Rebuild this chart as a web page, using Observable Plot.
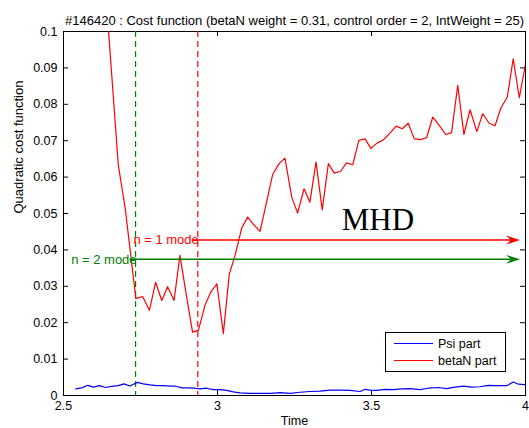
<!DOCTYPE html>
<html><head><meta charset="utf-8">
<script src="https://cdn.jsdelivr.net/npm/d3@7"></script>
<script src="https://cdn.jsdelivr.net/npm/@observablehq/plot@0.6"></script>
<style>
html,body{margin:0;padding:0;background:#fff;}
#wrap{position:relative;width:529px;height:428px;overflow:hidden;}
#legend{position:absolute;left:385px;top:332px;width:119px;height:38px;border:1px solid #000;background:#fff;font-family:"Liberation Sans",Arial,sans-serif;font-size:12.5px;}
.item{position:absolute;left:0;height:16px;width:119px;}
.swatch{position:absolute;left:8px;top:7px;width:39px;height:0;border-top:1.5px solid;}
.lab{position:absolute;left:52px;top:0;line-height:16px;color:#000;white-space:nowrap;}
</style></head><body>
<div id="wrap"><div id="chart"></div><div id="legend"></div></div>
<script>
const titleText = "#146420 : Cost function (betaN weight = 0.31, control order = 2, IntWeight = 25)";
const xLabel = "Time";
const yLabel = "Quadratic cost function";
const xTicks = [2.5, 3, 3.5, 4];
const yTicks = [0, 0.01, 0.02, 0.03, 0.04, 0.05, 0.06, 0.07, 0.08, 0.09, 0.1];

const seriesNames = ["Psi part", "betaN part"];
const seriesColors = ["#0000ff", "#ff0000"];

const psiTime = [2.540,2.559,2.579,2.597,2.616,2.637,2.656,2.678,2.696,2.716,2.740,2.759,2.781,2.803,2.824,2.846,2.862,2.884,2.905,2.927,2.943,2.965,2.986,3.008,3.030,3.051,3.073,3.106,3.138,3.171,3.203,3.236,3.268,3.300,3.333,3.365,3.398,3.430,3.463,3.479,3.495,3.517,3.544,3.571,3.598,3.625,3.658,3.684,3.717,3.744,3.771,3.798,3.825,3.852,3.879,3.906,3.939,3.960,3.977,3.998];
const psiValue = [0.0018,0.0021,0.0028,0.0023,0.0027,0.0022,0.0025,0.0027,0.0032,0.0026,0.0036,0.0032,0.0029,0.0027,0.0027,0.0026,0.0026,0.0021,0.0021,0.0020,0.0018,0.0020,0.0016,0.0016,0.0014,0.0010,0.0007,0.0006,0.0006,0.0006,0.0008,0.0006,0.0009,0.0011,0.0012,0.0015,0.0015,0.0014,0.0011,0.0017,0.0015,0.0014,0.0017,0.0016,0.0018,0.0019,0.0016,0.0020,0.0022,0.0019,0.0023,0.0026,0.0023,0.0024,0.0028,0.0027,0.0027,0.0037,0.0031,0.0030];

const betaTime = [2.642,2.678,2.700,2.735,2.757,2.779,2.799,2.819,2.838,2.859,2.878,2.900,2.919,2.938,2.959,2.978,2.998,3.019,3.038,3.057,3.079,3.098,3.116,3.138,3.157,3.179,3.200,3.219,3.241,3.260,3.281,3.300,3.320,3.340,3.360,3.379,3.400,3.419,3.439,3.459,3.479,3.498,3.519,3.538,3.560,3.580,3.600,3.619,3.639,3.660,3.679,3.699,3.720,3.741,3.760,3.780,3.800,3.820,3.842,3.861,3.882,3.901,3.920,3.941,3.960,3.980,4.002];
const betaValue = [0.105,0.0632,0.0517,0.0266,0.0272,0.0234,0.0311,0.0261,0.0299,0.0261,0.0385,0.0270,0.0174,0.0179,0.0247,0.0284,0.0307,0.0170,0.0332,0.0385,0.0461,0.0490,0.0471,0.0451,0.0522,0.0607,0.0637,0.0652,0.0545,0.0501,0.0568,0.0531,0.0641,0.0510,0.0637,0.0611,0.0616,0.0639,0.0634,0.0701,0.0705,0.0679,0.0694,0.0702,0.0721,0.0740,0.0733,0.0748,0.0705,0.0703,0.0708,0.0765,0.0742,0.0717,0.0722,0.0852,0.0717,0.0785,0.0725,0.0774,0.0748,0.0741,0.0790,0.0820,0.0925,0.0818,0.0920];

const modeNames = ["n = 1 mode", "n = 2 mode"];
const modeStart = [2.936, 2.734];
const modeLevel = [0.0427, 0.0374];
const modeColors = ["#ff0000", "#008000"];
const modeArrowEnd = [3.982, 3.982];

const mhdLabel = "MHD";
const mhdTime = 3.521;
const mhdValue = 0.0481;

const W = 529, H = 428;
const mL = 63, mR = 4, mT = 31, mB = 33;
const plotW = W - mL - mR, plotH = H - mT - mB;

const psi = psiTime.map((t, i) => ({t, v: psiValue[i]}));
const beta = betaTime.map((t, i) => ({t, v: betaValue[i]}));
const modes = modeNames.map((name, i) => ({name, start: modeStart[i], end: modeArrowEnd[i], level: modeLevel[i], color: modeColors[i]}));

// filled, notched arrowhead pointing right with its tip at the anchor point
const arrowHead = {
  draw(context) {
    context.moveTo(0, 0);
    context.lineTo(-14, -4.5);
    context.lineTo(-9, 0);
    context.lineTo(-14, 4.5);
    context.closePath();
  }
};

const chart = Plot.plot({
  width: W, height: H,
  marginLeft: mL, marginRight: mR, marginTop: mT, marginBottom: mB,
  style: {fontFamily: '"Liberation Sans", Arial, sans-serif', fontSize: "12px", color: "#000", background: "#fff", overflow: "visible"},
  x: {domain: [2.5, 4]},
  y: {domain: [0, 0.1]},
  color: {type: "identity"},
  marks: [
    Plot.frame({stroke: "#000", strokeWidth: 1}),
    Plot.axisX(xTicks, {tickSize: 0, tickPadding: 6, tickFormat: d => String(d), label: null, fontSize: 12.5}),
    Plot.axisY(yTicks, {tickSize: 0, tickPadding: 6, tickFormat: d => String(d), label: null, fontSize: 12.5}),
    Plot.ruleX(xTicks, {insetTop: plotH - 5, stroke: "#000"}),
    Plot.ruleX(xTicks, {insetBottom: plotH - 5, stroke: "#000"}),
    Plot.ruleY(yTicks, {insetRight: plotW - 5, stroke: "#000"}),
    Plot.ruleY(yTicks, {insetLeft: plotW - 5, stroke: "#000"}),
    Plot.text([xLabel], {frameAnchor: "bottom", dy: 29, fontSize: 12.5}),
    Plot.text([yLabel], {frameAnchor: "left", dx: -45, rotate: -90, fontSize: 13}),
    Plot.text([titleText], {frameAnchor: "top", dy: -16, fontSize: 13}),
    Plot.ruleX(modes, {x: "start", stroke: "color", strokeDasharray: "6,4", strokeWidth: 1.2}),
    Plot.line(psi, {x: "t", y: "v", stroke: seriesColors[0], strokeWidth: 1.2}),
    Plot.line(beta, {x: "t", y: "v", stroke: seriesColors[1], strokeWidth: 1.2, clip: true}),
    Plot.link(modes, {x1: "start", x2: "end", y1: "level", y2: "level", stroke: "color", strokeWidth: 1.5, dx: -6}),
    Plot.dot(modes, {x: "end", y: "level", fill: "color", stroke: "none", symbol: arrowHead, r: 5}),
    Plot.text(modes, {x: "start", y: "level", text: "name", fill: "color", textAnchor: "end", dx: 1, fontSize: 13}),
    Plot.text([mhdLabel], {x: () => mhdTime, y: () => mhdValue, fontFamily: '"Liberation Serif", "Times New Roman", serif', fontSize: 31, fill: "#000"})
  ]
});
document.getElementById("chart").appendChild(chart);

const legend = document.getElementById("legend");
seriesNames.forEach((name, i) => {
  const item = document.createElement("div");
  item.className = "item";
  item.style.top = (3 + i * 17) + "px";
  const sw = document.createElement("div");
  sw.className = "swatch";
  sw.style.borderTopColor = seriesColors[i];
  const lab = document.createElement("div");
  lab.className = "lab";
  lab.textContent = name;
  item.appendChild(sw); item.appendChild(lab);
  legend.appendChild(item);
});
</script>
</body></html>
